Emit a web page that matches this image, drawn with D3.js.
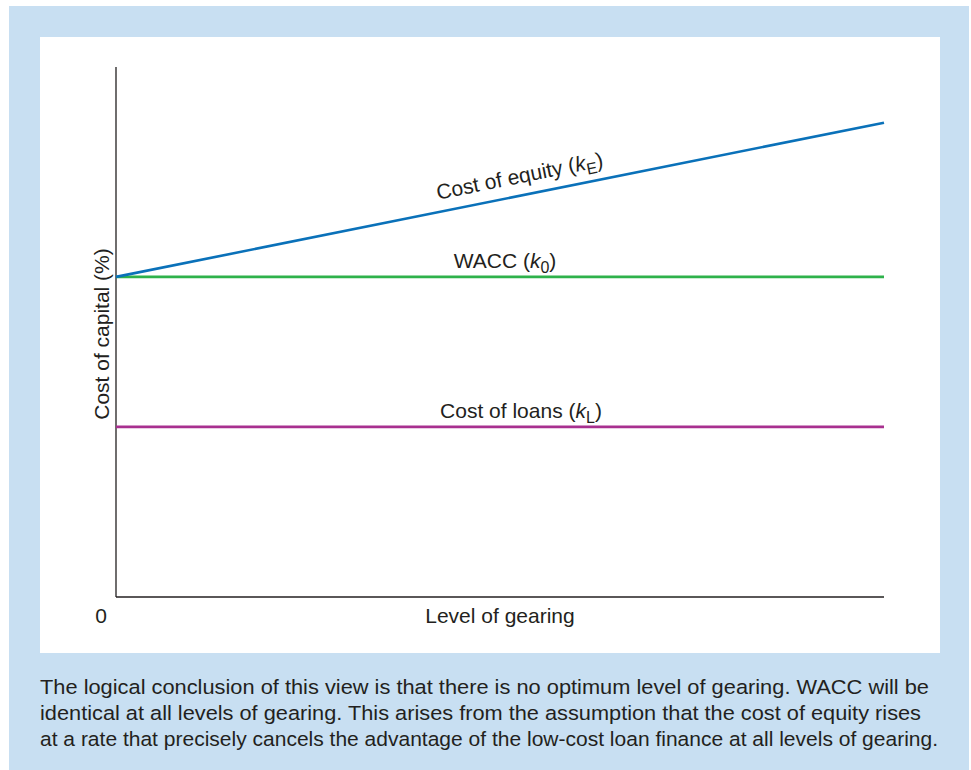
<!DOCTYPE html>
<html><head><meta charset="utf-8">
<script src="https://cdn.jsdelivr.net/npm/d3@7"></script>
<style>
html,body{margin:0;padding:0;background:#fff;}
svg text{font-family:"Liberation Sans",Arial,Helvetica,sans-serif;fill:#231f20;}
</style></head>
<body>
<svg id="chart" width="971" height="770"></svg>
<script>
// Data (conceptual: level of gearing 0..100, cost of capital %)
const gearing = [0, 100];
const costEquity = [60.4, 89.5];
const wacc = [60.4, 60.4];
const costLoans = [32.1, 32.1];
const seriesNames = ["Cost of equity", "WACC", "Cost of loans"];
const seriesSubs = ["E", "0", "L"];
const xLabel = "Level of gearing";
const yLabel = "Cost of capital (%)";
const originLabel = "0";
const caption = [
  "The logical conclusion of this view is that there is no optimum level of gearing. WACC will be",
  "identical at all levels of gearing. This arises from the assumption that the cost of equity rises",
  "at a rate that precisely cancels the advantage of the low-cost loan finance at all levels of gearing."
];

const svg = d3.select("#chart");
// background panels
svg.append("rect").attr("x",9).attr("y",6).attr("width",960).attr("height",764).attr("fill","#c8dff2");
svg.append("rect").attr("x",40).attr("y",37).attr("width",900).attr("height",616).attr("fill","#ffffff");

const x = d3.scaleLinear().domain([0,100]).range([116,884]);
const y = d3.scaleLinear().domain([0,100]).range([597,67]);

// axes
svg.append("line").attr("x1",x(0)).attr("x2",x(0)).attr("y1",y(100)).attr("y2",y(0)).attr("stroke","#231f20").attr("stroke-width",1.3);
svg.append("line").attr("x1",x(0)).attr("x2",x(100)).attr("y1",y(0)).attr("y2",y(0)).attr("stroke","#231f20").attr("stroke-width",1.3);

const series = [
  {vals: costLoans, color:"#a8308f"},
  {vals: wacc, color:"#2eb24b"},
  {vals: costEquity, color:"#0a71b9"}
];
const line = d3.line().x(d=>x(d[0])).y(d=>y(d[1]));
series.forEach(s=>{
  svg.append("path").datum(gearing.map((g,i)=>[g,s.vals[i]]))
    .attr("d",line).attr("fill","none").attr("stroke",s.color).attr("stroke-width",2.6);
});

function labelWithSub(g, name, sub){
  const t = g.append("text").attr("font-size",21).attr("text-anchor","middle");
  t.append("tspan").text(name + " (");
  t.append("tspan").attr("font-style","italic").text("k");
  t.append("tspan").attr("font-size",16).attr("dy",5).text(sub);
  t.append("tspan").attr("dy",-5).text(")");
  return t;
}
// equity label rotated along the line
const ang = Math.atan2(y(costEquity[1])-y(costEquity[0]), x(gearing[1])-x(gearing[0]))*180/Math.PI;
labelWithSub(svg.append("g").attr("transform",`translate(521,183) rotate(${ang})`), seriesNames[0], seriesSubs[0]);
labelWithSub(svg.append("g").attr("transform",`translate(505,${y(wacc[0])-9})`), seriesNames[1], seriesSubs[1]);
labelWithSub(svg.append("g").attr("transform",`translate(521,${y(costLoans[0])-9})`), seriesNames[2], seriesSubs[2]);

// axis labels
svg.append("text").attr("x",101).attr("y",623).attr("font-size",21).attr("text-anchor","middle").text(originLabel);
svg.append("text").attr("x",500).attr("y",623).attr("font-size",21).attr("text-anchor","middle").text(xLabel);
svg.append("text").attr("transform","translate(109,334) rotate(-90)").attr("font-size",21).attr("text-anchor","middle").text(yLabel);

// caption
caption.forEach((c,i)=>{
  svg.append("text").attr("x",40).attr("y",694+i*26).attr("font-size",20.5)
    .attr("textLength", i===0?889:(i===1?881:898)).attr("lengthAdjust","spacingAndGlyphs").text(c);
});
</script>
</body></html>
